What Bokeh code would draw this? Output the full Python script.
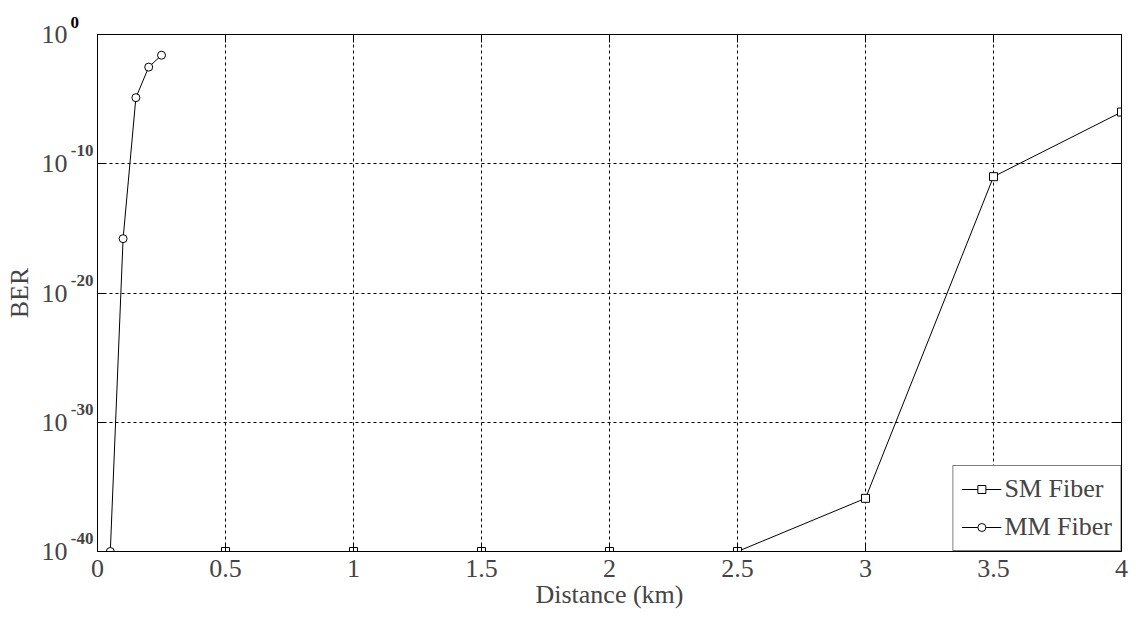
from bokeh.plotting import figure
from bokeh.models import (LogAxis, LinearAxis, FixedTicker, Legend,
                          LegendItem, Range1d, Title)
from bokeh.embed import file_html
from bokeh.resources import INLINE

# ---- data ----
sm_x = [0.5, 1.0, 1.5, 2.0, 2.5, 3.0, 3.5, 4.0]
sm_ber = [1e-40, 1e-40, 1e-40, 1e-40, 1e-40, 1.3e-36, 1e-11, 1e-6]
mm_x = [0.05, 0.10, 0.15, 0.20, 0.25]
mm_ber = [1e-40, 1.6e-16, 1.3e-5, 3e-3, 2.5e-2]

x_ticks = [0, 0.5, 1, 1.5, 2, 2.5, 3, 3.5, 4]
x_tick_labels = ["0", "0.5", "1", "1.5", "2", "2.5", "3", "3.5", "4"]
y_ticks = [1e-40, 1e-30, 1e-20, 1e-10, 1e0]
y_tick_base = ["10", "10", "10", "10", "10"]
y_tick_exponents = ["-40", "-30", "-20", "-10", "0"]

FONT = "Liberation Serif"

p = figure(width=1136, height=621, y_axis_type="log",
           x_range=Range1d(0, 4), y_range=Range1d(1e-40, 1e0),
           output_backend="svg", toolbar_location=None,
           min_border_left=97, min_border_right=15,
           min_border_top=34, min_border_bottom=70,
           background_fill_color="white", border_fill_color="white")

p.outline_line_color = "black"
p.outline_line_width = 1

# x axis
xa = p.xaxis[0]
xa.ticker = FixedTicker(ticks=x_ticks)
xa.major_label_overrides = {t: l for t, l in zip(x_ticks, x_tick_labels)}
xa.major_label_text_font = FONT
xa.major_label_text_font_size = "26px"
xa.major_label_standoff = 8
xa.major_tick_in = 8
xa.major_tick_out = 0
xa.minor_tick_line_color = None
xa.axis_label = "Distance (km)"
xa.axis_label_text_font = FONT
xa.axis_label_text_font_size = "26px"
xa.axis_label_text_font_style = "normal"
xa.axis_label_standoff = 0
xa.axis_line_color = "black"

# inner left axis: only the inward ticks
ya = p.yaxis[0]
ya.ticker = FixedTicker(ticks=y_ticks)
ya.major_label_overrides = {t: "" for t in y_ticks}
ya.major_label_text_font_size = "0px"
ya.major_label_standoff = 0
ya.major_tick_in = 8
ya.major_tick_out = 0
ya.minor_tick_line_color = None
ya.axis_line_color = "black"

# exponent labels: a range shifted ~1 decade so they sit raised
p.extra_y_ranges = {"exp": Range1d(10 ** -41.0, 10 ** -1.0)}
ea = LogAxis(y_range_name="exp", ticker=FixedTicker(ticks=y_ticks),
             major_label_text_font=FONT, major_label_text_font_size="17px",
             major_label_text_font_style="bold", major_label_standoff=4,
             major_tick_in=0, major_tick_out=0, major_tick_line_color=None,
             minor_tick_line_color=None, axis_line_color=None)
ea.major_label_overrides = {t: e for t, e in zip(y_ticks, y_tick_exponents)}
p.add_layout(ea, "left")

# base "10" labels + axis title
ba = LogAxis(ticker=FixedTicker(ticks=y_ticks),
             major_label_text_font=FONT, major_label_text_font_size="26px",
             major_label_standoff=0, major_tick_in=0, major_tick_out=0,
             major_tick_line_color=None, minor_tick_line_color=None,
             axis_line_color=None, axis_label="BER",
             axis_label_text_font=FONT, axis_label_text_font_size="26px",
             axis_label_text_font_style="normal", axis_label_standoff=5)
ba.major_label_overrides = {t: b for t, b in zip(y_ticks, y_tick_base)}
p.add_layout(ba, "left")

# mirrored ticks (box style)
ra = LogAxis(ticker=FixedTicker(ticks=y_ticks), major_label_text_font_size="0px",
             major_label_standoff=0, major_tick_in=8, major_tick_out=0,
             minor_tick_line_color=None, axis_line_color="black")
ra.major_label_overrides = {t: "" for t in y_ticks}
p.add_layout(ra, "right")
ta = LinearAxis(ticker=FixedTicker(ticks=x_ticks), major_label_text_font_size="0px",
                major_label_standoff=0, major_tick_in=8, major_tick_out=0,
                minor_tick_line_color=None, axis_line_color="black")
ta.major_label_overrides = {t: "" for t in x_ticks}
p.add_layout(ta, "above")

# the top exponent (10^0) lies beyond the shifted range: set it in the top border
p.add_layout(Title(text=y_tick_exponents[-1], align="left", offset=-27,
                   standoff=13, text_font=FONT, text_font_size="17px",
                   text_font_style="bold", text_color="black"), "above")

# grid
for g in (p.xgrid[0], p.ygrid[0]):
    g.grid_line_color = "black"
    g.grid_line_dash = "3 3"
    g.grid_line_width = 1
    g.grid_line_alpha = 1.0
p.xgrid[0].ticker = FixedTicker(ticks=x_ticks)
p.ygrid[0].ticker = FixedTicker(ticks=y_ticks)

# series
sm_l = p.line(sm_x, sm_ber, line_color="black", line_width=1)
sm_m = p.scatter(sm_x, sm_ber, marker="square", size=8, fill_color="white",
                 line_color="black", line_width=1)
mm_l = p.line(mm_x, mm_ber, line_color="black", line_width=1)
mm_m = p.scatter(mm_x, mm_ber, marker="circle", size=8, fill_color="white",
                 line_color="black", line_width=1)

legend = Legend(items=[LegendItem(label="SM Fiber", renderers=[sm_l, sm_m]),
                       LegendItem(label="MM Fiber", renderers=[mm_l, mm_m])],
                location="bottom_right", margin=0, padding=8, spacing=8,
                label_standoff=3, glyph_width=40, glyph_height=20,
                label_height=30, label_text_font=FONT,
                label_text_font_size="26px", border_line_color="black",
                border_line_width=1, background_fill_color="white",
                background_fill_alpha=1.0)
p.add_layout(legend, "center")

open("out.html", "w").write(file_html(p, INLINE))
